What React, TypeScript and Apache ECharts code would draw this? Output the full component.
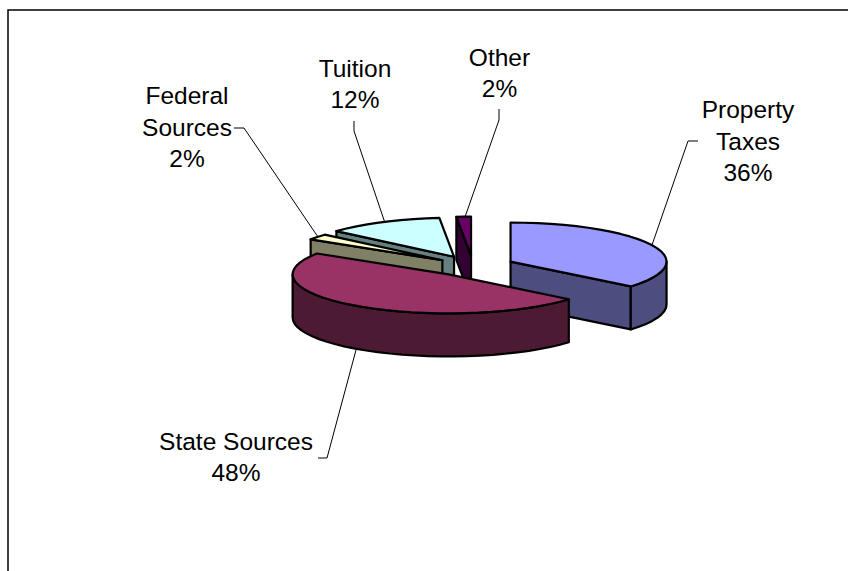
import React, { useEffect, useRef } from "react";
import * as echarts from "echarts";

// Data, in pie order (clockwise from 12 o'clock)
const categories = ["Property\nTaxes", "State Sources", "Federal\nSources", "Tuition", "Other"];
const values = [36, 48, 2.4, 12.1, 1.5];
const topColors = ["#9999FF", "#993366", "#FFFFCC", "#CCFFFF", "#660066"];
const sideColors = ["#4D4D80", "#4D1A33", "#808066", "#668080", "#330033"];
const paintOrder = [4, 3, 2, 0, 1];

// Layout
const CX = 473;
const CY = 266;
const RX = 156;
const RY = 39;
const DEPTH = 43;
const explosions = [0.266, 0.266, 0.245, 0.266, 0.266];
const labelCenters = [
  [748, 141],
  [236, 457],
  [187, 127],
  [355, 84],
  [499.5, 73],
];
const leaders = [
  [[698, 141], [688, 141], [652, 245]],
  [[318, 458], [327, 458], [356, 350]],
  [[234, 128], [244, 128], [318, 237]],
  [[354, 121], [354, 131], [385, 223]],
  [[499, 109], [499, 120], [465, 217]],
];

const total = values.reduce((a, b) => a + b, 0);
const rad = (d: number) => (d * Math.PI) / 180;

function arcPoints(ax: number, ay: number, a0: number, a1: number, dy = 0) {
  const n = Math.max(1, Math.ceil((a1 - a0) / 5));
  const pts: number[][] = [];
  for (let k = 0; k <= n; k++) {
    const t = rad(a0 + ((a1 - a0) * k) / n);
    pts.push([ax + RX * Math.sin(t), ay - RY * Math.cos(t) + dy]);
  }
  return pts;
}

function renderItem(params: any, api: any) {
  const i = api.value(1) as number;
  const before = values.slice(0, i).reduce((a, b) => a + b, 0);
  const a0 = (before / total) * 360;
  const a1 = a0 + ((api.value(0) as number) / total) * 360;
  const mid = rad((a0 + a1) / 2);
  const ax = CX + explosions[i] * RX * Math.sin(mid);
  const ay = CY - explosions[i] * RY * Math.cos(mid);
  const edge = { stroke: "#000", lineWidth: 2.2, lineJoin: "round" as const };
  const poly = (points: number[][], fill: string) => ({
    type: "polygon",
    shape: { points },
    style: { fill, ...edge },
  });
  const radial = (t: number) => {
    const p = [ax + RX * Math.sin(rad(t)), ay - RY * Math.cos(rad(t))];
    return [[ax, ay], p, [p[0], p[1] + DEPTH], [ax, ay + DEPTH]];
  };
  const children: any[] = [];
  if (Math.sin(rad(a0)) < -1e-6) children.push(poly(radial(a0), sideColors[i]));
  if (Math.sin(rad(a1)) > 1e-6) children.push(poly(radial(a1), sideColors[i]));
  const o0 = Math.max(a0, 90);
  const o1 = Math.min(a1, 270);
  if (o1 > o0) {
    const up = arcPoints(ax, ay, o0, o1);
    const down = arcPoints(ax, ay, o0, o1, DEPTH).reverse();
    children.push(poly([...up, ...down], sideColors[i]));
  }
  children.push(poly([[ax, ay], ...arcPoints(ax, ay, a0, a1)], topColors[i]));
  return { type: "group", children };
}

function renderLabels(params: any, api: any) {
  const i = api.value(0) as number;
  const pct = Math.round((values[i] / total) * 100);
  return {
    type: "group",
    children: [
      {
        type: "polyline",
        shape: { points: leaders[i] },
        style: { stroke: "#000", lineWidth: 1, fill: "none" },
      },
      {
        type: "text",
        x: labelCenters[i][0],
        y: labelCenters[i][1],
        style: {
          text: `${categories[i]}\n${pct}%`,
          fill: "#000",
          font: '24.5px "Liberation Sans", Arial, sans-serif',
          lineHeight: 31.5,
          align: "center",
          verticalAlign: "middle",
        },
      },
    ],
  };
}

export default function App() {
  const ref = useRef<HTMLDivElement>(null);
  useEffect(() => {
    const chart = echarts.init(ref.current!, undefined, { renderer: "svg" });
    chart.setOption({
      animation: false,
      backgroundColor: "#fff",
      graphic: [
        {
          type: "polyline",
          shape: { points: [[8, 571], [8, 10], [848, 10]] },
          style: { stroke: "#000", lineWidth: 1.5, fill: "none" },
        },
      ],
      series: [
        {
          type: "custom",
          coordinateSystem: "none",
          silent: true,
          renderItem,
          data: paintOrder.map((i) => [values[i], i]),
          encode: { value: [0, 1] },
        },
        {
          type: "custom",
          coordinateSystem: "none",
          silent: true,
          renderItem: renderLabels,
          data: values.map((_, i) => [i]),
          z: 3,
        },
      ],
    });
    return () => chart.dispose();
  }, []);
  return <div ref={ref} style={{ position: "fixed", left: 0, top: 0, width: 848, height: 571 }} />;
}
